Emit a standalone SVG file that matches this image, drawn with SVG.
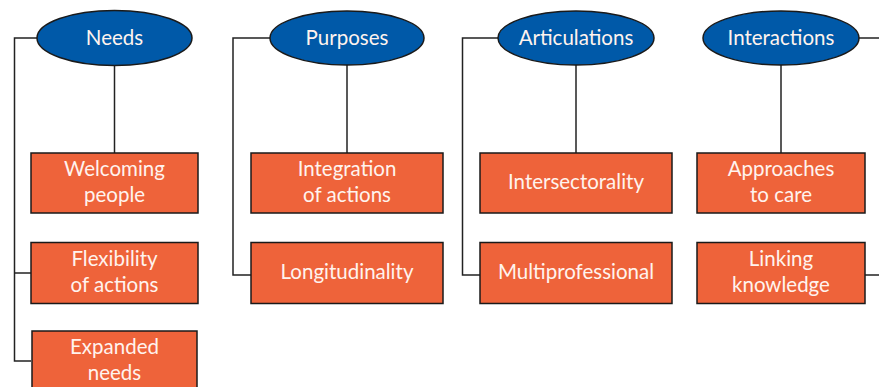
<svg xmlns="http://www.w3.org/2000/svg" width="879" height="387" viewBox="0 0 879 387">
  <style>
    .oval { fill: #0059a8; stroke: #1a1a1a; stroke-width: 1.5; }
    .box { fill: #ee633a; stroke: #1a1a1a; stroke-width: 1.5; }
    .lbl { font-family: "Lato", "Open Sans", sans-serif; font-size: 20.5px; fill: #fff3ee; text-anchor: middle; }
    .wire { fill: none; stroke: #222; stroke-width: 1.5; }
  </style>

  <!-- connectors -->
  <g id="connectors" class="wire">
    <path d="M37,38 H14.5 V361 H31"/>
    <path d="M14.5,273 H31"/>
    <path d="M114.5,66 V153"/>
    <path d="M270,38 H233 V275 H251"/>
    <path d="M347,65 V153"/>
    <path d="M498,38 H462.5 V275 H480"/>
    <path d="M576,65 V153"/>
    <path d="M781,65 V153"/>
    <path d="M859,38 H879"/>
    <path d="M865,275 H879"/>
  </g>

  <!-- column 1 -->
  <g id="needs">
    <ellipse class="oval" cx="114.5" cy="38" rx="77.5" ry="27.5"/>
    <text class="lbl" x="114.5" y="44.5">Needs</text>
  </g>
  <g id="welcoming-people">
    <rect class="box" x="31" y="153" width="167" height="60"/>
    <text class="lbl" x="114.5" y="176">Welcoming</text>
    <text class="lbl" x="114.5" y="202">people</text>
  </g>
  <g id="flexibility-of-actions">
    <rect class="box" x="31" y="242.5" width="167" height="61"/>
    <text class="lbl" x="114.5" y="266">Flexibility</text>
    <text class="lbl" x="114.5" y="292">of actions</text>
  </g>
  <g id="expanded-needs">
    <rect class="box" x="32" y="331" width="165" height="60"/>
    <text class="lbl" x="114.5" y="354">Expanded</text>
    <text class="lbl" x="114.5" y="380">needs</text>
  </g>

  <!-- column 2 -->
  <g id="purposes">
    <ellipse class="oval" cx="347" cy="38" rx="77" ry="27"/>
    <text class="lbl" x="347" y="44.5">Purposes</text>
  </g>
  <g id="integration-of-actions">
    <rect class="box" x="251" y="153" width="192" height="60"/>
    <text class="lbl" x="347" y="176">Integration</text>
    <text class="lbl" x="347" y="202">of actions</text>
  </g>
  <g id="longitudinality">
    <rect class="box" x="251" y="242.5" width="192" height="61"/>
    <text class="lbl" x="347" y="279">Longitudinality</text>
  </g>

  <!-- column 3 -->
  <g id="articulations">
    <ellipse class="oval" cx="576" cy="38" rx="78" ry="27"/>
    <text class="lbl" x="576" y="44.5">Articulations</text>
  </g>
  <g id="intersectorality">
    <rect class="box" x="480" y="153" width="192" height="60"/>
    <text class="lbl" x="576" y="189">Intersectorality</text>
  </g>
  <g id="multiprofessional">
    <rect class="box" x="480" y="242.5" width="192" height="61"/>
    <text class="lbl" x="576" y="279">Multiprofessional</text>
  </g>

  <!-- column 4 -->
  <g id="interactions">
    <ellipse class="oval" cx="781" cy="38" rx="78" ry="27"/>
    <text class="lbl" x="781" y="44.5">Interactions</text>
  </g>
  <g id="approaches-to-care">
    <rect class="box" x="697" y="153" width="168" height="60"/>
    <text class="lbl" x="781" y="176">Approaches</text>
    <text class="lbl" x="781" y="202">to care</text>
  </g>
  <g id="linking-knowledge">
    <rect class="box" x="697" y="242.5" width="168" height="61"/>
    <text class="lbl" x="781" y="266">Linking</text>
    <text class="lbl" x="781" y="292">knowledge</text>
  </g>
</svg>
